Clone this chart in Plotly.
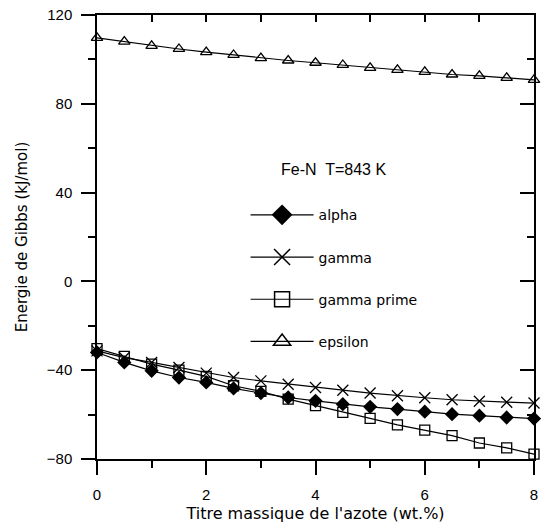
import plotly.graph_objects as go

# Nitrogen mass fraction (wt.%)
titre_azote = [0, 0.5, 1, 1.5, 2, 2.5, 3, 3.5, 4, 4.5, 5, 5.5, 6, 6.5, 7, 7.5, 8]

# Gibbs energy of each phase (kJ/mol), Fe-N at T = 843 K
g_alpha = [-32.0, -36.5, -40.3, -43.3, -45.5, -48.2, -50.3, -52.3, -53.8,
           -55.3, -56.5, -57.5, -58.7, -59.8, -60.5, -61.3, -61.8]
g_gamma = [-31.3, -34.3, -36.5, -38.8, -41.3, -43.3, -44.8, -46.3, -47.8,
           -49.0, -50.3, -51.5, -52.4, -53.3, -54.0, -54.4, -54.8]
g_gamma_prime = [-30.3, -33.8, -37.3, -40.0, -42.8, -47.0, -49.5, -53.0, -56.0,
                 -59.0, -61.7, -64.6, -67.0, -69.5, -72.8, -75.0, -77.8]
g_epsilon = [109.7, 108.0, 106.1, 104.7, 103.3, 102.0, 100.6, 99.5, 98.5,
             97.5, 96.2, 95.3, 94.4, 93.2, 92.6, 91.7, 90.8]

x_ticks = [0, 2, 4, 6, 8]
y_ticks = [-80, -40, 0, 40, 80, 120]

TICK_FONT = "Liberation Sans"
TEXT_FONT = "DejaVu Sans"

# (name, values, symbol, plot marker size, legend marker size, filled)
series = [
    ("alpha", g_alpha, "diamond", 11, 16, True),
    ("gamma", g_gamma, "x-thin", 11, 16, False),
    ("gamma prime", g_gamma_prime, "square-open", 10, 15, False),
    ("epsilon", g_epsilon, "triangle-up-open", 10, 15, False),
]

fig = go.Figure()
for name, values, symbol, size, leg_size, filled in series:
    outline = dict(width=1.3, color="black")
    fig.add_trace(go.Scatter(
        x=titre_azote, y=values, name=name, mode="lines+markers",
        line=dict(color="black", width=1.2),
        marker=dict(symbol=symbol, size=size, color="black",
                    line=dict(width=0) if filled else outline),
        legendgroup=name, showlegend=False, cliponaxis=False,
    ))
    # legend sample with a larger symbol
    fig.add_trace(go.Scatter(
        x=[None], y=[None], name=name, mode="lines+markers",
        line=dict(color="black", width=1.2),
        marker=dict(symbol=symbol, size=leg_size, color="black",
                    line=dict(width=0) if filled else dict(width=1.5, color="black")),
        legendgroup=name, showlegend=True,
    ))

# Invisible trace on mirrored axes carries the inside ticks on top and right
fig.add_trace(go.Scatter(x=titre_azote, y=g_epsilon, xaxis="x2", yaxis="y2",
                         mode="markers", marker=dict(opacity=0),
                         showlegend=False, hoverinfo="skip"))

axis_line = dict(showline=True, linecolor="black", linewidth=1.5,
                 showgrid=False, zeroline=False)

fig.update_layout(
    width=541, height=526,
    margin=dict(l=97, r=3, t=15, b=67),
    paper_bgcolor="white", plot_bgcolor="white",
    font=dict(family=TICK_FONT, size=15, color="black"),
    xaxis=dict(range=[0, 8], tickvals=x_ticks, ticks="outside", ticklen=14,
               tickwidth=1.5, tickcolor="black", ticklabeloverflow="allow",
               ticklabelstandoff=7,
               minor=dict(dtick=1, ticks="outside", ticklen=7, tickwidth=1.5,
                          tickcolor="black"),
               title=dict(text="Titre massique de l'azote (wt.%)", standoff=6,
                          font=dict(family=TEXT_FONT, size=16, color="black")),
               **axis_line),
    yaxis=dict(range=[-80, 120], tickvals=y_ticks, ticks="outside", ticklen=14,
               tickwidth=1.5, tickcolor="black", ticklabelstandoff=6,
               minor=dict(dtick=20, ticks="outside", ticklen=7, tickwidth=1.5,
                          tickcolor="black"),
               title=dict(text="Energie de Gibbs (kJ/mol)", standoff=16,
                          font=dict(family=TEXT_FONT, size=15, color="black")),
               **axis_line),
    xaxis2=dict(range=[0, 8], overlaying="x", side="top", dtick=1,
                ticks="inside", ticklen=7, tickwidth=1.5, tickcolor="black",
                showticklabels=False, **axis_line),
    yaxis2=dict(range=[-80, 120], overlaying="y", side="right", tickvals=y_ticks,
                ticks="inside", ticklen=14, tickwidth=1.5, tickcolor="black",
                minor=dict(dtick=20, ticks="inside", ticklen=7, tickwidth=1.5,
                           tickcolor="black"),
                showticklabels=False, **axis_line),
    showlegend=True,
    legend=dict(x=0.34, y=0.585, xanchor="left", yanchor="top",
                bgcolor="rgba(0,0,0,0)", tracegroupgap=21,
                font=dict(family=TEXT_FONT, size=14), itemwidth=63),
    annotations=[dict(text="Fe-N  T=843 K", xref="paper", yref="paper",
                      x=0.417, y=0.651, xanchor="left", yanchor="middle",
                      showarrow=False, font=dict(family=TICK_FONT, size=16))],
)

fig.write_html("out.html")
